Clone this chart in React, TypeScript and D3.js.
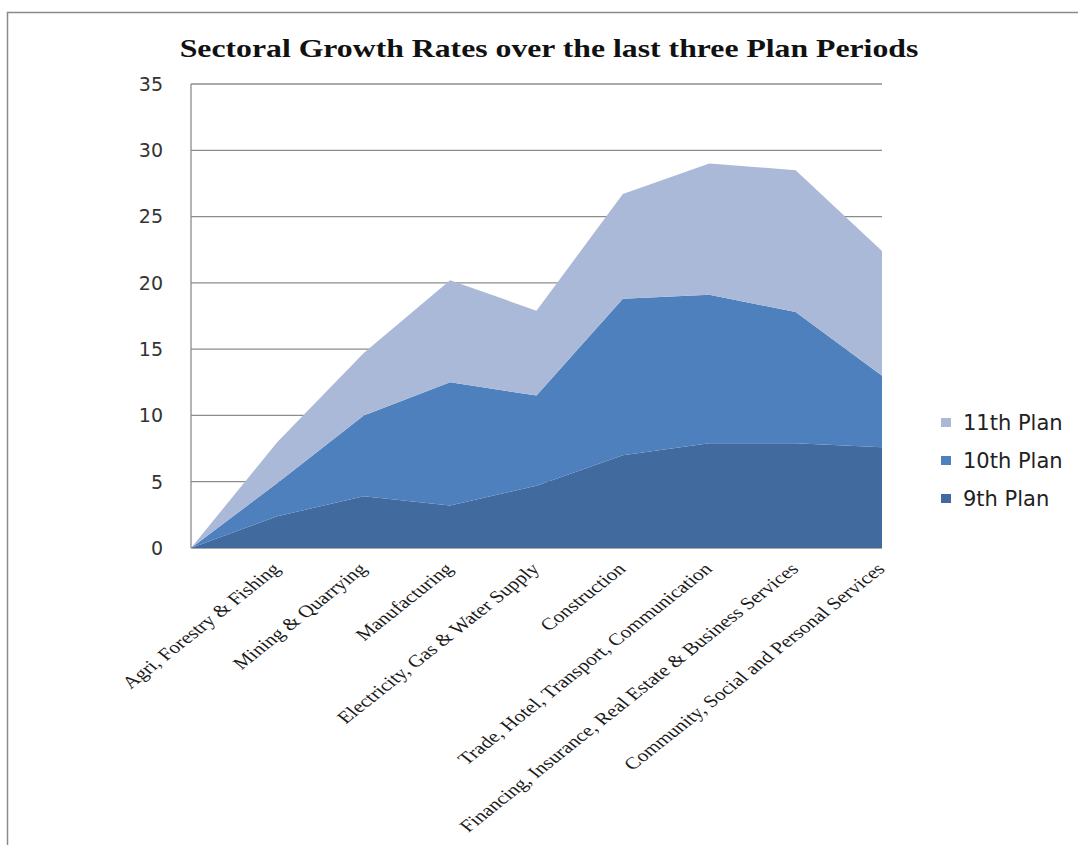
import React from "react";
import * as d3 from "d3";

const categories = [
  "",
  "Agri, Forestry & Fishing",
  "Mining & Quarrying",
  "Manufacturing",
  "Electricity, Gas & Water Supply",
  "Construction",
  "Trade, Hotel, Transport, Communication",
  "Financing, Insurance, Real Estate & Business Services",
  "Community, Social and Personal Services",
];
const plan9 = [0, 2.4, 3.9, 3.2, 4.7, 7.0, 7.9, 7.9, 7.6];
const plan10 = [0, 2.5, 6.1, 9.3, 6.8, 11.8, 11.2, 9.9, 5.4];
const plan11 = [0, 3.1, 4.7, 7.7, 6.4, 7.9, 9.9, 10.7, 9.4];
const seriesNames = ["9th Plan", "10th Plan", "11th Plan"];
const seriesColors = ["#416A9E", "#4D80BD", "#AAB9D7"];
const yTicks = [0, 5, 10, 15, 20, 25, 30, 35];
const title = "Sectoral Growth Rates over the last three Plan Periods";

export default function App() {
  const W = 1078, H = 845;
  const x = d3.scalePoint<string>().domain(categories.map((_, i) => String(i))).range([191, 882]);
  const y = d3.scaleLinear().domain([0, 35]).range([548, 84]);

  const rows = categories.map((c, i) => ({ i, p9: plan9[i], p10: plan10[i], p11: plan11[i] }));
  const stack = d3.stack<any>().keys(["p9", "p10", "p11"]);
  const layers = stack(rows);
  const area = d3
    .area<any>()
    .x((d) => x(String(d.data.i)) as number)
    .y0((d) => y(d[0]))
    .y1((d) => y(d[1]));

  const legendOrder = [2, 1, 0];

  return (
    <svg
      width={W}
      height={H}
      style={{ position: "absolute", left: 0, top: 0, background: "#fff" }}
    >
      <rect x={7.5} y={12.5} width={1200} height={1000} fill="#fff" stroke="#8a8a8a" strokeWidth={1.5} />
      <text
        transform={`translate(549,57) scale(1.27,1)`}
        textAnchor="middle"
        fontFamily="'Liberation Serif', 'Times New Roman', serif"
        fontWeight="bold"
        fontSize={25}
        fill="#111"
      >
        {title}
      </text>
      {/* gridlines */}
      {yTicks.map((t) => (
        <line key={t} x1={191} x2={882} y1={y(t)} y2={y(t)} stroke="#8c8c8c" strokeWidth={1.3} />
      ))}
      <line x1={191} x2={191} y1={y(35)} y2={y(0)} stroke="#8c8c8c" strokeWidth={1.3} />
      {/* areas */}
      {layers.map((layer, k) => (
        <path key={k} d={area(layer as any) || ""} fill={seriesColors[k]} />
      ))}
      {/* y labels */}
      {yTicks.map((t) => (
        <text
          key={t}
          x={163}
          y={y(t)}
          dy="0.36em"
          textAnchor="end"
          fontFamily="'DejaVu Sans', Verdana, sans-serif"
          fontSize={19}
          fill="#333"
        >
          {t}
        </text>
      ))}
      {/* x labels */}
      {categories.map((c, i) =>
        c ? (
          <text
            key={i}
            transform={`translate(${(x(String(i)) as number) + 4},570) scale(1.26,1) rotate(-45)`}
            textAnchor="end"
            fontFamily="'Liberation Serif', 'Times New Roman', serif"
            fontSize={17}
            fill="#1a1a1a"
          >
            {c}
          </text>
        ) : null
      )}
      {/* legend */}
      {legendOrder.map((k, j) => (
        <g key={k} transform={`translate(941,${418 + j * 38})`}>
          <rect x={0} y={0} width={10} height={9} fill={seriesColors[k]} />
          <text
            x={22}
            y={4.5}
            dy="0.36em"
            fontFamily="'DejaVu Sans', Verdana, sans-serif"
            fontSize={21}
            fill="#222"
          >
            {seriesNames[k]}
          </text>
        </g>
      ))}
    </svg>
  );
}
